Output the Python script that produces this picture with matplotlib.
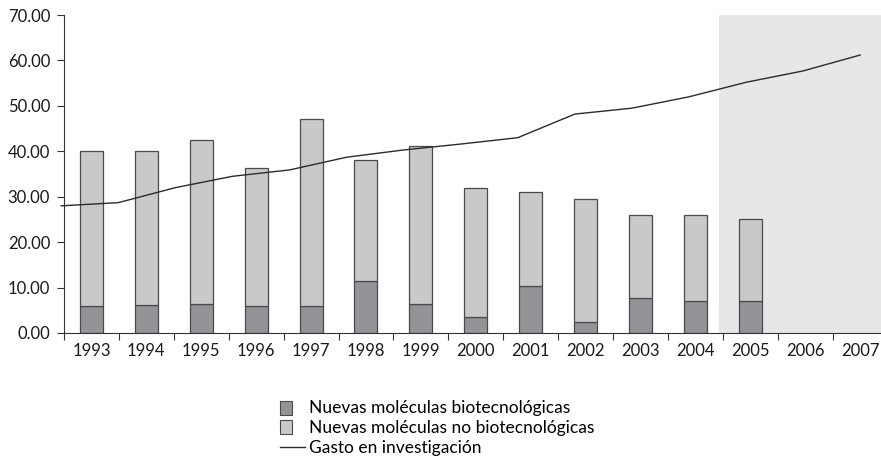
import numpy as np
import matplotlib.pyplot as plt
from matplotlib.patches import Rectangle
from matplotlib.lines import Line2D
from matplotlib.legend_handler import HandlerPatch

plt.rcParams['font.family'] = ['Lato', 'DejaVu Sans']

# Data
years = ['1993', '1994', '1995', '1996', '1997', '1998', '1999', '2000',
         '2001', '2002', '2003', '2004', '2005', '2006', '2007']
bio = [6.0, 6.1, 6.4, 6.0, 6.0, 11.5, 6.4, 3.6, 10.4, 2.4, 7.6, 7.1, 7.1]
total = [40.1, 40.1, 42.4, 36.3, 47.1, 38.2, 41.1, 31.9, 31.1, 29.4, 25.9, 25.9, 25.0]
gasto = [28.0, 28.7, 32.0, 34.5, 35.9, 38.7, 40.3, 41.6, 43.0, 48.2,
         49.5, 52.0, 55.2, 57.7, 61.2]

no_bio = [t - b for t, b in zip(total, bio)]

c_dark = '#939497'
c_light = '#c8c9cb'
c_edge = '#4a4a4a'

fig = plt.figure(figsize=(8.81, 4.71), dpi=100)
ax = fig.add_axes([0.0726, 0.293, 0.9274, 0.675])

x = np.arange(len(bio))
ax.axvspan(11.43, 15, color='#e6e7e8', lw=0, zorder=0)
ax.bar(x, bio, width=0.42, color=c_dark, edgecolor=c_edge, lw=0.9, zorder=2)
ax.bar(x, no_bio, width=0.42, bottom=bio, color=c_light, edgecolor=c_edge,
       lw=0.9, zorder=2)

# the line is drawn from the left edge to the centre of the last category
xl = np.linspace(-0.55, 14.0, len(gasto))
ax.plot(xl, gasto, color='#2b2b2b', lw=1.0, zorder=3, clip_on=False)

ax.set_yticks(np.arange(0, 71, 10))
ax.set_yticklabels([f'{v:.2f}' for v in np.arange(0, 71, 10)])

ax.set_xticks(np.arange(-0.5, 15, 1))
ax.set_xticklabels([])
ax.set_xticks(np.arange(len(years)), minor=True)
ax.set_xticklabels(years, minor=True)
# limits after the ticks, otherwise set_xticks widens them
ax.set_xlim(-0.5, 14.38)
ax.set_ylim(0, 70)

ax.tick_params(axis='x', which='major', length=5, width=0.8, color='#333333')
ax.tick_params(axis='x', which='minor', length=0, pad=7, labelsize=12,
               labelcolor='#1a1a1a')
ax.tick_params(axis='y', length=5, width=0.8, color='#333333', pad=5,
               labelsize=12, labelcolor='#1a1a1a')

for s in ['top', 'right']:
    ax.spines[s].set_visible(False)
for s in ['left', 'bottom']:
    ax.spines[s].set_color('#333333')
    ax.spines[s].set_linewidth(0.8)


def small_square(legend, orig_handle, xdescent, ydescent, width, height, fontsize):
    return Rectangle((-xdescent, -ydescent - 0.1 * height), height * 1.0,
                     height * 1.15)


handles = [Rectangle((0, 0), 1, 1, facecolor=c_dark, edgecolor=c_edge, lw=0.8),
           Rectangle((0, 0), 1, 1, facecolor=c_light, edgecolor=c_edge, lw=0.8),
           Line2D([0], [0], color='#2b2b2b', lw=1.0)]
labels = ['Nuevas moléculas biotecnológicas',
          'Nuevas moléculas no biotecnológicas',
          'Gasto en investigación']
fig.legend(handles, labels, loc='upper left', bbox_to_anchor=(0.318, 0.15),
           frameon=False, fontsize=12.5, handlelength=1.45, handletextpad=0.2,
           labelspacing=0.22, borderpad=0, borderaxespad=0,
           handler_map={Rectangle: HandlerPatch(patch_func=small_square)})

fig.savefig('out.png', dpi=100)
